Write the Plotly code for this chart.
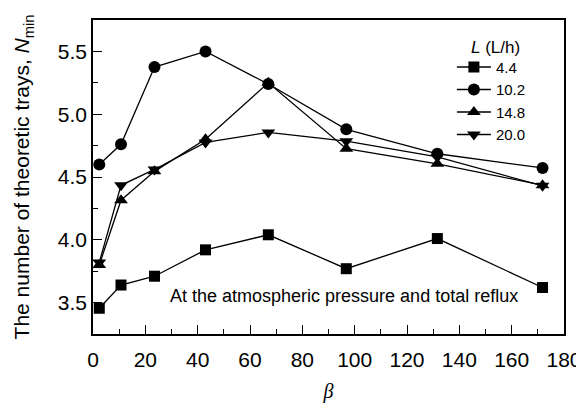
import plotly.graph_objects as go

beta = [2.4, 10.7, 23.5, 43.0, 67.0, 96.8, 131.6, 171.8]
n_44 = [3.455, 3.64, 3.71, 3.92, 4.04, 3.77, 4.01, 3.62]
n_102 = [4.60, 4.76, 5.375, 5.50, 5.24, 4.88, 4.685, 4.572]
n_148 = [3.80, 4.315, 4.545, 4.80, 5.25, 4.725, 4.605, 4.435]
n_200 = [3.82, 4.434, 4.56, 4.775, 4.855, 4.785, 4.66, 4.43]
labels = ["4.4", "10.2", "14.8", "20.0"]
series = [n_44, n_102, n_148, n_200]
symbols = ["square", "circle", "triangle-up", "triangle-down"]
sizes = [11, 12, 12, 12]

fig = go.Figure()
for lab, ys, sym, sz in zip(labels, series, symbols, sizes):
    fig.add_trace(go.Scatter(
        x=beta, y=ys, name=lab, mode="lines+markers",
        line=dict(color="black", width=1.3),
        marker=dict(symbol=sym, size=sz, color="black"),
    ))

fig.add_annotation(x=96, y=3.55, text="At the atmospheric pressure and total reflux",
                   showarrow=False, font=dict(size=18, color="black"))
# legend heading
fig.add_annotation(x=0.855, y=0.914, xref="paper", yref="paper", text="<i>L</i> (L/h)",
                   xanchor="center", yanchor="middle",
                   showarrow=False, font=dict(size=17, color="black"))

# page body has an 8px margin, so the figure is 8px smaller and margins shifted
fig.update_layout(
    width=576, height=395,
    margin=dict(l=85, r=20, t=12, b=69),
    paper_bgcolor="white", plot_bgcolor="white",
    font=dict(family="Liberation Sans, Arial, sans-serif", color="black", size=18),
    showlegend=True,
    legend=dict(
        x=0.762, y=0.902, xanchor="left", yanchor="top",
        font=dict(size=15), bgcolor="rgba(0,0,0,0)",
        itemwidth=34, tracegroupgap=0,
    ),
)
fig.update_xaxes(
    range=[0, 180], tickmode="linear", tick0=0, dtick=20, automargin=False,
    ticks="inside", ticklen=9, tickwidth=1.2, tickcolor="black",
    minor=dict(ticks="inside", ticklen=5, dtick=10, tickcolor="black", tickwidth=1.2),
    showline=True, linecolor="black", linewidth=1.5, mirror=True,
    showgrid=False, zeroline=False, ticklabelstandoff=6,
    tickfont=dict(size=21),
    title=dict(text="<i>β</i>", font=dict(size=20, family="Liberation Serif, serif"), standoff=22),
)
fig.update_yaxes(
    range=[3.25, 5.75], tickmode="array", tickvals=[3.5, 4.0, 4.5, 5.0, 5.5],
    ticktext=["3.5", "4.0", "4.5", "5.0", "5.5"], automargin=False,
    ticks="inside", ticklen=9, tickwidth=1.2, tickcolor="black",
    minor=dict(ticks="inside", ticklen=5, tickvals=[3.75, 4.25, 4.75, 5.25], tickcolor="black", tickwidth=1.2),
    showline=True, linecolor="black", linewidth=1.5, mirror=True,
    showgrid=False, zeroline=False,
    tickfont=dict(size=21),
    title=dict(text="The number of theoretic trays, <i>N</i><sub>min</sub>", font=dict(size=21), standoff=22),
)

fig.write_html("out.html")
